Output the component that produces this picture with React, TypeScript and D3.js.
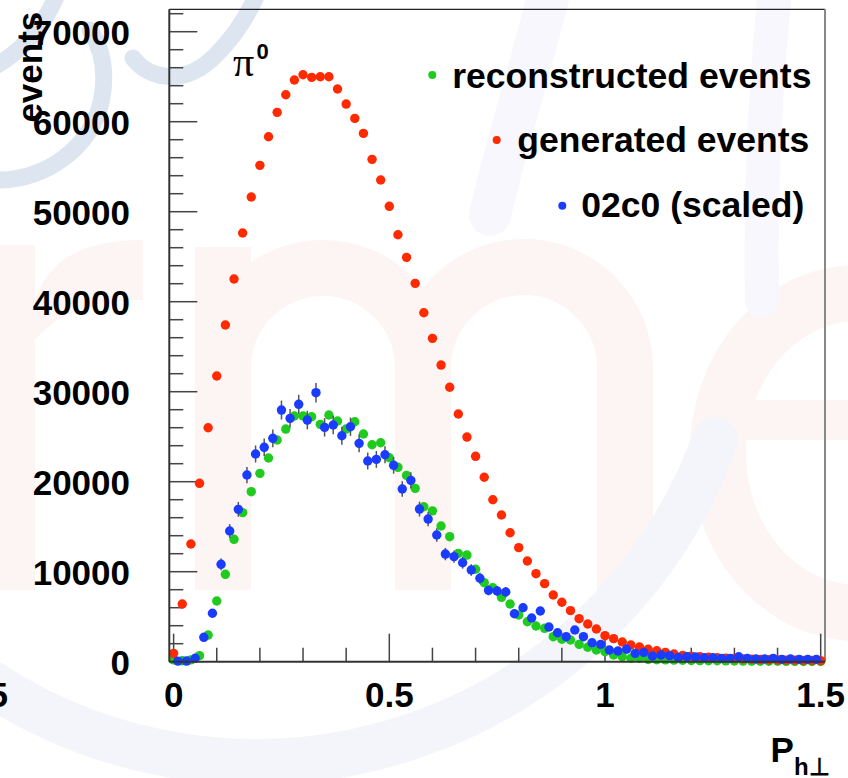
import React from 'react';
import * as d3 from 'd3';

// bin centres: generated & reconstructed at 0.02*i, 02c0 at 0.02*k + 0.01
const binStep = 0.02;
const blueOffset = 0.01;

const generated = [
  930, 6410, 13080, 19820, 26000, 31740, 37410, 42520, 47630, 51630,
  55150, 58330, 61040, 63000, 64630, 65220, 64930, 65000, 65000, 63630,
  61960, 60370, 58700, 55820, 53520, 50600, 47440, 44930, 42040, 38770,
  35930, 32960, 30490, 27520, 24960, 22820, 20490, 18000, 16300, 14330,
  12670, 11190, 9780, 8670, 7410, 6600, 5670, 4780, 4190, 3630,
  2890, 2560, 2190, 1860, 1630, 1380, 1220, 1040, 860, 700,
  620, 560, 500, 440, 400, 350, 310, 280, 250, 220,
  200, 180, 160, 140, 130, 120,
];

const reconstructed = [
  200, 100, 200, 670, 2960, 6740, 9710, 13600, 16560, 18890,
  20930, 22630, 24630, 25850, 27300, 27300, 27220, 26370, 27410, 26740,
  25850, 26660, 25300, 24110, 24330, 22660, 21600, 20700, 19260, 17220,
  16760, 15080, 13890, 12040, 11850, 10270, 8780, 8220, 7150, 6410,
  5190, 4440, 3970, 3710, 2780, 2490, 2410, 1930, 1600, 1300,
  1110, 740, 560, 380, 380, 250, 220, 200, 180, 160,
  140, 120, 110, 100, 90, 80, 70, 60, 55, 50,
  45, 40, 35, 30, 25, 20,
];

const scaled02c0 = [
  60, 70, 380, 2710, 5380, 10820, 14520, 16930, 20740, 23080,
  23820, 24820, 27960, 27040, 28600, 26850, 29890, 26040, 26300, 25110,
  26110, 24260, 22300, 22480, 23000, 21820, 19190, 20150, 16960, 15850,
  14080, 11960, 11670, 11000, 10190, 9270, 7930, 7850, 7740, 5330,
  6000, 4860, 5630, 3850, 3220, 2780, 3520, 2780, 2110, 1930,
  1300, 1190, 1380, 930, 1040, 630, 740, 670, 480, 560,
  520, 440, 440, 370, 370, 555, 370, 300, 300, 370,
  260, 300, 260, 260, 260,
];

const scaled02c0Err = [
  60, 60, 150, 330, 460, 650, 760, 820, 900, 950,
  970, 990, 1050, 1030, 1060, 1030, 1090, 1020, 1020, 1000,
  1020, 980, 940, 940, 950, 930, 870, 890, 820, 790,
  750, 690, 680, 660, 640, 610, 560, 560, 550, 460,
  490, 440, 470, 390, 360, 330, 370, 330, 290, 280,
  230, 220, 230, 190, 200, 160, 170, 160, 140, 150,
  140, 130, 130, 120, 120, 150, 120, 110, 110, 120,
  100, 110, 100, 100, 100,
];

const xMajorTicks = [0, 0.5, 1, 1.5];
const xTickLabels = ['0', '0.5', '1', '1.5'];
const yMajorTicks = [0, 10000, 20000, 30000, 40000, 50000, 60000, 70000];
const yTickLabels = ['0', '10000', '20000', '30000', '40000', '50000', '60000', '70000'];

const legendLabels = ['reconstructed events', 'generated events', '02c0 (scaled)'];

const COLORS = { green: '#1ecb1e', red: '#ff2a00', blue: '#1a3cff' };
const FONT = '"Liberation Sans", Arial, Helvetica, sans-serif';

export default function App() {
  const W = 848;
  const H = 778;
  const left = 169.3, right = 825, top = 9.3, bottom = 661.7;

  const x = d3.scaleLinear().domain([-0.01, 1.51]).range([left, right]);
  const y = d3.scaleLinear().domain([0, 72490]).range([bottom, top]);

  const xMinor = d3.range(0, 15.01, 1).map((v) => v / 10).filter((v) => !xMajorTicks.some((m) => Math.abs(m - v) < 1e-9));
  const yMinor = d3.range(0, 72001, 2000).filter((v) => v % 10000 !== 0);

  const greenPts = reconstructed.map((v, i) => ({ px: x(i * binStep), py: y(v) }));
  const redPts = generated.map((v, i) => ({ px: x(i * binStep), py: y(v) }));
  const bluePts = scaled02c0.map((v, k) => ({
    px: x(k * binStep + blueOffset),
    py: y(v),
    lo: y(Math.max(0, v - scaled02c0Err[k])),
    hi: y(v + scaled02c0Err[k]),
  }));

  const r = 4.7;
  const tickColor = '#444';

  return (
    <svg
      width={W}
      height={H}
      viewBox={`0 0 ${W} ${H}`}
      style={{ position: 'absolute', left: 0, top: 0, background: '#fff' }}
      fontFamily={FONT}
    >
      <rect x={0} y={0} width={W} height={H} fill="#fff" />
      {/* faint watermark */}
      <g>
        {/* pink letters r m e */}
        <g fill="#fcf5f3" stroke="none">
          <rect x={-20} y={245} width={55} height={345} />
          <path d="M 35 300 C 50 255, 90 240, 143 240 L 143 300 C 100 300, 60 310, 35 340 Z" />
          <rect x={195} y={247} width={56} height={343} />
        </g>
        <g fill="none" stroke="#fcf5f3" strokeWidth={56}>
          <path d="M 223 368 A 100 100 0 0 1 423 368 L 423 590" />
          <path d="M 423 368 A 101 101 0 0 1 625 368 L 625 590" />
          <path d="M 985 520 A 140 160 0 1 1 990 400" />
        </g>
        <rect x={720} y={400} width={270} height={40} fill="#fcf5f3" />
        {/* lavender arc and italic strokes */}
        <g fill="none" strokeLinecap="round">
          <path d="M -10 683 A 488 488 0 0 0 715 440" strokeWidth={46} stroke="#f4f4fb" />
          <path d="M 550 -10 C 530 70, 505 150, 490 215" strokeWidth={42} stroke="#f7f7fd" />
          <path d="M 775 -10 C 765 90, 760 200, 762 300" strokeWidth={34} stroke="#f7f7fd" />
        </g>
        {/* light blue swooshes */}
        <g fill="none" stroke="#dde6f0" strokeWidth={17} strokeLinecap="round">
          <path d="M 58 -8 C 45 25, 25 50, -8 68" />
          <path d="M -8 180 C 45 182, 92 148, 102 98 C 107 68, 100 45, 90 30" />
          <path d="M 133 58 C 150 80, 185 86, 215 56 C 235 36, 248 16, 258 -8" />
        </g>
      </g>

      {/* frame */}
      <line x1={left} x2={right} y1={top} y2={top} stroke="#222" strokeWidth={1.2} />
      <line x1={right} x2={right} y1={top} y2={bottom} stroke="#888" strokeWidth={2} />

      {/* y ticks */}
      {yMajorTicks.map((v) => (
        <line key={`ym${v}`} x1={left} x2={left + 28} y1={y(v)} y2={y(v)} stroke={tickColor} strokeWidth={1.5} />
      ))}
      {yMinor.map((v) => (
        <line key={`yn${v}`} x1={left} x2={left + 14} y1={y(v)} y2={y(v)} stroke={tickColor} strokeWidth={1.5} />
      ))}
      {/* x ticks */}
      {xMajorTicks.map((v) => (
        <line key={`xm${v}`} x1={x(v)} x2={x(v)} y1={bottom} y2={bottom - 28} stroke={tickColor} strokeWidth={1.5} />
      ))}
      {xMinor.map((v) => (
        <line key={`xn${v}`} x1={x(v)} x2={x(v)} y1={bottom} y2={bottom - 14} stroke={tickColor} strokeWidth={1.5} />
      ))}

      {/* data */}
      <g fill={COLORS.green}>
        {greenPts.map((p, i) => (
          <circle key={`g${i}`} cx={p.px} cy={p.py} r={r} />
        ))}
      </g>
      <g fill={COLORS.red}>
        {redPts.map((p, i) => (
          <circle key={`r${i}`} cx={p.px} cy={p.py} r={r} />
        ))}
      </g>
      <g stroke="#555" strokeWidth={1.5}>
        {bluePts.map((p, k) => (
          <line key={`e${k}`} x1={p.px} x2={p.px} y1={p.lo} y2={p.hi} />
        ))}
      </g>
      <g fill={COLORS.blue}>
        {bluePts.map((p, k) => (
          <circle key={`b${k}`} cx={p.px} cy={p.py} r={r} />
        ))}
      </g>

      {/* axes lines */}
      <line x1={left} x2={left} y1={top} y2={bottom} stroke="#333" strokeWidth={2} />
      <line x1={left} x2={right} y1={bottom} y2={bottom} stroke="#333" strokeWidth={2} />

      {/* y tick labels */}
      {yMajorTicks.map((v, i) => (
        <text key={`yl${v}`} x={130} y={y(v) + 13} textAnchor="end" fontSize={35} fontWeight="bold" fill="#000">
          {yTickLabels[i]}
        </text>
      ))}
      {/* x tick labels */}
      {xMajorTicks.map((v, i) => (
        <text key={`xl${v}`} x={x(v)} y={706.5} textAnchor="middle" fontSize={35} fontWeight="bold" fill="#000">
          {xTickLabels[i]}
        </text>
      ))}
      <text x={8} y={706.5} textAnchor="end" fontSize={35} fontWeight="bold" fill="#000">1.5</text>

      {/* axis titles */}
      <text transform="translate(41.7, 11.7) rotate(-90)" textAnchor="end" fontSize={35} fontWeight="bold" fill="#000">
        events
      </text>
      <text x={770.5} y={761.7} fontSize={35} fontWeight="bold" fill="#000">P</text>
      <text x={794} y={775} fontSize={24} fontWeight="bold" fill="#000">h⊥</text>

      {/* pi0 label */}
      <text x={233} y={75.5} fontSize={42} fontFamily='"Liberation Serif", "DejaVu Serif", serif' fill="#000">π</text>
      <text x={256.5} y={59.3} fontSize={22} fontWeight="bold" fill="#000">0</text>

      {/* legend */}
      {[
        { c: COLORS.green, tx: 452.3, ty: 88.3, dx: 432.3, dy: 75 },
        { c: COLORS.red, tx: 517.3, ty: 151.7, dx: 496.7, dy: 140 },
        { c: COLORS.blue, tx: 581.3, ty: 217.3, dx: 562.3, dy: 205.7 },
      ].map((l, i) => (
        <g key={`lg${i}`}>
          <circle cx={l.dx} cy={l.dy} r={4} fill={l.c} />
          <text x={l.tx} y={l.ty} fontSize={35.5} fontWeight="bold" fill="#000">
            {legendLabels[i]}
          </text>
        </g>
      ))}
    </svg>
  );
}
